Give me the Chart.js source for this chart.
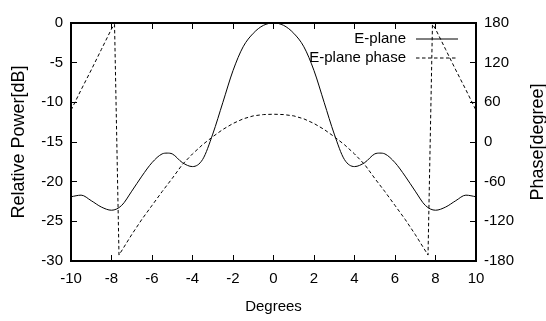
<!DOCTYPE html>
<html>
<head>
<meta charset="utf-8">
<script src="https://cdn.jsdelivr.net/npm/chart.js@4.4.1/dist/chart.umd.min.js"></script>
<style>
	body { margin: 0; background: #fff; }
</style>
</head>
<body>
<canvas id="pattern" width="546" height="321"></canvas>
<script>
// E-plane power pattern [dB]
var powerDegrees = [-10, -9.5, -9, -8.5, -8, -7.5, -7, -6.5, -6, -5.5, -5.25, -5, -4.5, -4, -3.5, -3, -2.5, -2, -1.5, -1, -0.5, 0,
	0.5, 1, 1.5, 2, 2.5, 3, 3.5, 4, 4.5, 5, 5.25, 5.5, 6, 6.5, 7, 7.5, 8, 8.5, 9, 9.5, 10];
var powerValues = [-21.9, -21.7, -22.4, -23.2, -23.6, -23.0, -21.2, -19.3, -17.6, -16.5, -16.4, -16.5, -17.6, -18.1, -17.2, -14.0, -10.0, -6.0, -3.0, -1.3, -0.3, 0,
	-0.3, -1.3, -3.0, -6.0, -10.0, -14.0, -17.2, -18.1, -17.6, -16.5, -16.4, -16.5, -17.6, -19.3, -21.2, -23.0, -23.6, -23.2, -22.4, -21.7, -21.9];

// E-plane phase [degree]
var phaseDegrees = [-10, -9.5, -9, -8.5, -8, -7.85, -7.63, -7, -6.5, -6, -5.5, -5, -4.5, -4, -3.5, -3, -2.5, -2, -1.5, -1, -0.5, 0,
	0.5, 1, 1.5, 2, 2.5, 3, 3.5, 4, 4.5, 5, 5.5, 6, 6.5, 7, 7.63, 7.85, 8, 8.5, 9, 9.5, 10];
var phaseValues = [48, 79, 109, 140, 171, 178, -171, -140, -117, -96, -75, -55, -34, -18, -4, 8, 19, 28, 35, 39.5, 41.5, 42,
	41.5, 39.5, 35, 28, 19, 8, -4, -18, -34, -55, -75, -96, -117, -140, -171, 178, 171, 140, 109, 79, 48];

var xTicks = { min: -10, max: 10, step: 2 };
var powerTicks = { min: -30, max: 0, step: 5 };
var phaseTicks = { min: -180, max: 180, step: 60 };

function points(xs, ys) {
	return xs.map(function (x, i) { return { x: x, y: ys[i] }; });
}

var family = '"Liberation Sans", Arial, Helvetica, sans-serif';
var tickFont = { family: family, size: 15 };
var inwardGrid = { drawOnChartArea: false, drawTicks: true, tickLength: -6, tickWidth: 1, tickColor: '#000' };
var frame = { color: '#000', width: 2 };

// gnuplot style key (text first, sample after) and the right axis label
var overlay = {
	id: 'overlay',
	afterDraw: function (chart) {
		var ctx = chart.ctx, area = chart.chartArea;
		ctx.save();
		ctx.font = '15px ' + family;
		ctx.fillStyle = '#000';
		ctx.textAlign = 'right';
		ctx.textBaseline = 'middle';
		chart.data.datasets.forEach(function (ds, i) {
			var y = area.top + 16 + i * 19;
			ctx.fillText(ds.label, area.right - 70, y);
			ctx.beginPath();
			ctx.setLineDash(ds.borderDash || []);
			ctx.lineWidth = ds.borderWidth;
			ctx.strokeStyle = ds.borderColor;
			ctx.moveTo(area.right - 60, y);
			ctx.lineTo(area.right - 18, y);
			ctx.stroke();
		});
		ctx.setLineDash([]);
		ctx.translate(538, (area.top + area.bottom) / 2);
		ctx.rotate(-Math.PI / 2);
		ctx.textAlign = 'center';
		ctx.font = '18px ' + family;
		ctx.fillText('Phase[degree]', 0, 0);
		ctx.restore();
	}
};

var config = {
	type: 'line',
	data: {
		datasets: [{
			label: 'E-plane',
			data: points(powerDegrees, powerValues),
			borderColor: '#000',
			borderWidth: 1,
			pointRadius: 0,
			cubicInterpolationMode: 'monotone',
			xAxisID: 'x',
			yAxisID: 'y'
		}, {
			label: 'E-plane phase',
			data: points(phaseDegrees, phaseValues),
			borderColor: '#000',
			borderWidth: 1,
			borderDash: [3.5, 2.5],
			pointRadius: 0,
			tension: 0,
			xAxisID: 'x',
			yAxisID: 'y2'
		}]
	},
	options: {
		responsive: false,
		animation: false,
		devicePixelRatio: 1,
		layout: { padding: 0 },
		plugins: {
			legend: { display: false },
			tooltip: { enabled: false }
		},
		scales: {
			x: {
				type: 'linear',
				position: 'bottom',
				min: xTicks.min,
				max: xTicks.max,
				ticks: { stepSize: xTicks.step, padding: 15, font: tickFont, color: '#000' },
				grid: inwardGrid,
				border: frame,
				title: { display: true, text: 'Degrees', font: tickFont, color: '#000', padding: { top: 0, bottom: 5 } },
				afterFit: function (s) { s.height = 60; }
			},
			xTop: {
				type: 'linear',
				position: 'top',
				min: xTicks.min,
				max: xTicks.max,
				ticks: { stepSize: xTicks.step, display: false },
				grid: inwardGrid,
				border: frame,
				afterFit: function (s) { s.height = 14; }
			},
			y: {
				position: 'left',
				min: powerTicks.min,
				max: powerTicks.max,
				ticks: { stepSize: powerTicks.step, padding: 14, font: tickFont, color: '#000' },
				grid: inwardGrid,
				border: frame,
				title: { display: true, text: 'Relative Power[dB]', font: { family: family, size: 18 }, color: '#000', padding: { top: 8, bottom: 0 } },
				afterFit: function (s) { s.width = 71; }
			},
			y2: {
				position: 'right',
				min: phaseTicks.min,
				max: phaseTicks.max,
				ticks: { stepSize: phaseTicks.step, padding: 14, font: tickFont, color: '#000' },
				grid: inwardGrid,
				border: frame,
				afterFit: function (s) { s.width = 70; }
			}
		}
	},
	plugins: [overlay]
};

var ctx = document.getElementById('pattern').getContext('2d');
window.myPattern = new Chart(ctx, config);
</script>
</body>
</html>
